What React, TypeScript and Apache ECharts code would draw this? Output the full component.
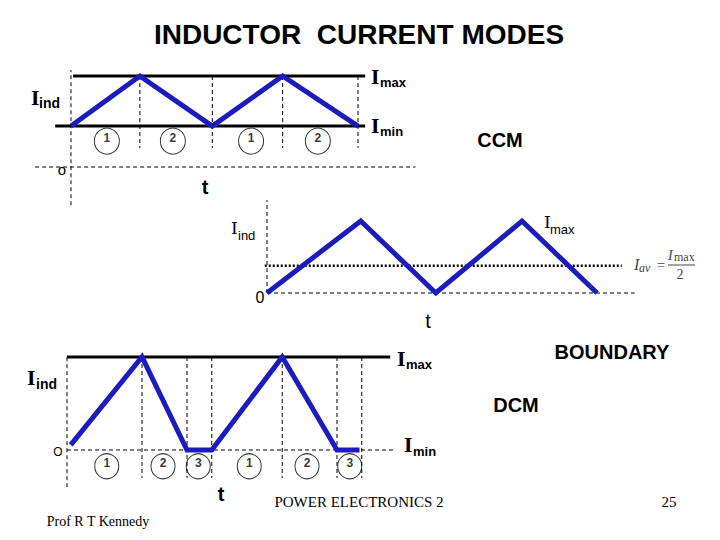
import React, { useEffect, useRef } from "react";
import * as echarts from "echarts";

const BLUE = "#1c1cbe";

// ---- CCM panel (time units, current units) ----
const ccmTimes = [0, 0.96, 1.97, 2.95, 4];
const ccmCurrent = [0.9, 2, 0.9, 2, 0.9];
const ccmImax = 2;
const ccmImin = 0.9;
const ccmEdges = [0.96, 1.97, 2.95, 4];
const ccmPhaseTimes = [0.5, 1.42, 2.51, 3.44];
const ccmPhaseLabels = ["1", "2", "1", "2"];

// ---- Boundary panel ----
const bndTimes = [0, 1.25, 2.25, 3.4, 4.4];
const bndCurrent = [0, 2, 0, 2, 0];
const bndAverage = 0.76;

// ---- DCM panel ----
const dcmTimes = [0.05, 1, 1.6, 1.93, 2.87, 3.6, 3.9];
const dcmCurrent = [0.11, 2, 0, 0, 2, 0, 0];
const dcmImax = 2;
const dcmEdges = [1, 1.6, 1.93, 2.87, 3.6, 3.93];
const dcmPhaseTimes = [0.53, 1.28, 1.75, 2.43, 3.2, 3.77];
const dcmPhaseLabels = ["1", "2", "3", "1", "2", "3"];

const DASH = { color: "#000", width: 1, type: [4, 3] as any };
const THICK = { color: "#000", width: 3 };
const WAVE = { color: BLUE, width: 5, join: "miter" as any, cap: "butt" as any };

function seg(gi: number, pts: number[][], style: any, z = 2) {
  return {
    type: "line",
    xAxisIndex: gi,
    yAxisIndex: gi,
    data: pts,
    symbol: "none",
    silent: true,
    lineStyle: style,
    z,
  };
}

function phases(gi: number, times: number[], y: number, labels: string[], size: number[]) {
  return {
    type: "scatter",
    xAxisIndex: gi,
    yAxisIndex: gi,
    symbol: "circle",
    symbolSize: size,
    data: times.map((t) => [t, y]),
    itemStyle: { color: "rgba(255,255,255,0)", borderColor: "#000", borderWidth: 1 },
    label: {
      show: true,
      position: "inside",
      formatter: (p: any) => labels[p.dataIndex],
      color: "#000",
      fontSize: 12,
      fontWeight: "bold",
      fontFamily: "Liberation Sans",
      offset: [0, -3],
    },
    silent: true,
    z: 5,
  };
}

function T(text: string, x: number, y: number, size: number, o: any = {}) {
  return {
    type: "text",
    x,
    y,
    silent: true,
    z: 10,
    style: {
      text,
      fontSize: size,
      fontFamily: o.family || "Liberation Sans",
      fontWeight: o.weight || "normal",
      fontStyle: o.style || "normal",
      fill: o.color || "#000",
      align: o.align || "left",
      verticalAlign: "middle",
    },
  };
}

const DSB = { family: "DejaVu Serif", weight: "bold" };
const B = { weight: "bold" };
const SER = { family: "Liberation Serif", color: "#444" };

export default function App() {
  const ref = useRef<HTMLDivElement>(null);
  useEffect(() => {
    document.body.style.margin = "0";
    const chart = echarts.init(ref.current!, undefined, { renderer: "svg" });

    const grids = [
      { left: 35.1, top: 69.2, width: 380.3, height: 136.5 },
      { left: 259.5, top: 199.4, width: 382.5, height: 100.8 },
      { left: 44.5, top: 338.4, width: 360, height: 151.1 },
    ];
    const xr = [
      [-0.5, 4.8],
      [-0.1, 5],
      [-0.3, 4.5],
    ];
    const yr = [
      [-0.85, 2.15],
      [-0.2, 2.6],
      [-0.85, 2.4],
    ];

    const series: any[] = [];
    // CCM
    series.push(seg(0, [[-0.5, 0], [4.8, 0]], DASH));
    series.push(seg(0, [[0, -0.84], [0, 2.13]], DASH));
    ccmEdges.forEach((e) => series.push(seg(0, [[e, ccmImax], [e, 0.42]], DASH)));
    series.push(seg(0, [[0.03, ccmImax], [4.1, ccmImax]], THICK, 3));
    series.push(seg(0, [[-0.22, ccmImin], [4.1, ccmImin]], THICK, 3));
    series.push(seg(0, ccmTimes.map((t, i) => [t, ccmCurrent[i]]), WAVE, 4));
    series.push(phases(0, ccmPhaseTimes, 0.57, ccmPhaseLabels, [25, 26]));

    // Boundary
    series.push(seg(1, [[0, 0], [4.9, 0]], DASH));
    series.push(seg(1, [[0, 0], [0, 2.58]], DASH));
    series.push(seg(1, [[-0.03, bndAverage], [4.73, bndAverage]], { color: "#000", width: 2.5, type: [2, 2] }, 3));
    series.push(seg(1, bndTimes.map((t, i) => [t, bndCurrent[i]]), WAVE, 4));

    // DCM
    series.push(seg(2, [[0, 0], [4.35, 0]], DASH));
    series.push(seg(2, [[0, -0.8], [0, dcmImax]], DASH));
    dcmEdges.forEach((e) => series.push(seg(2, [[e, dcmImax], [e, -0.6]], DASH)));
    series.push(seg(2, [[0, dcmImax], [4.31, dcmImax]], THICK, 3));
    series.push(seg(2, dcmTimes.map((t, i) => [t, dcmCurrent[i]]), WAVE, 4));
    series.push(phases(2, dcmPhaseTimes, -0.35, dcmPhaseLabels, [24, 25]));

    const graphic: any[] = [
      T("INDUCTOR  CURRENT MODES", 359, 34, 28, { weight: "bold", align: "center" }),
      // CCM labels
      T("I", 31, 98, 18, DSB),
      T("ind", 39, 103, 14, B),
      T("I", 371, 77, 18, DSB),
      T("max", 380, 82, 13, B),
      T("I", 371, 126, 18, DSB),
      T("min", 380, 131, 13, B),
      T("CCM", 500, 140, 20, { weight: "bold", align: "center" }),
      T("o", 62, 169, 15, { align: "center" }),
      T("t", 205, 187, 20, { weight: "bold", align: "center" }),
      // Boundary labels
      T("I", 231, 228, 17, { family: "DejaVu Serif" }),
      T("ind", 238, 235, 13),
      T("I", 544, 222, 17, { family: "DejaVu Serif" }),
      T("max", 550, 229, 13),
      T("0", 260, 297, 16, { align: "center" }),
      T("t", 428, 321, 20, { align: "center" }),
      T("I", 634, 264, 16, { ...SER, style: "italic" }),
      T("av", 639, 268, 12, { ...SER, style: "italic" }),
      T("=", 661, 265, 15, { ...SER, align: "center" }),
      T("I", 668, 255, 14, { ...SER, style: "italic" }),
      T("max", 674, 257, 12, SER),
      {
        type: "line",
        silent: true,
        shape: { x1: 668, y1: 265, x2: 695, y2: 265 },
        style: { stroke: "#444", lineWidth: 1 },
      },
      T("2", 680, 274, 14, { ...SER, align: "center" }),
      T("BOUNDARY", 612, 352, 20, { weight: "bold", align: "center" }),
      // DCM labels
      T("I", 27, 378, 18, DSB),
      T("ind", 36, 384, 14, B),
      T("I", 397, 359, 18, DSB),
      T("max", 406, 364, 13, B),
      T("I", 404, 445, 18, DSB),
      T("min", 413, 451, 13, B),
      T("O", 58, 452, 12, { align: "center" }),
      T("t", 221, 494, 20, { weight: "bold", align: "center" }),
      T("DCM", 516, 405, 20, { weight: "bold", align: "center" }),
      // Footer
      T("POWER ELECTRONICS 2", 359, 502, 15, { family: "Liberation Serif", align: "center" }),
      T("25", 669, 502, 15, { family: "Liberation Serif", align: "center" }),
      T("Prof R T Kennedy", 98, 521, 14, { family: "Liberation Serif", align: "center" }),
    ];

    chart.setOption({
      animation: false,
      backgroundColor: "#fff",
      grid: grids.map((g) => ({ ...g, containLabel: false })),
      xAxis: xr.map((r, i) => ({ type: "value", gridIndex: i, min: r[0], max: r[1], show: false })),
      yAxis: yr.map((r, i) => ({ type: "value", gridIndex: i, min: r[0], max: r[1], show: false })),
      series,
      graphic,
    });
    return () => chart.dispose();
  }, []);
  return (
    <div
      ref={ref}
      style={{ position: "fixed", left: 0, top: 0, width: 720, height: 540, background: "#fff" }}
    />
  );
}
